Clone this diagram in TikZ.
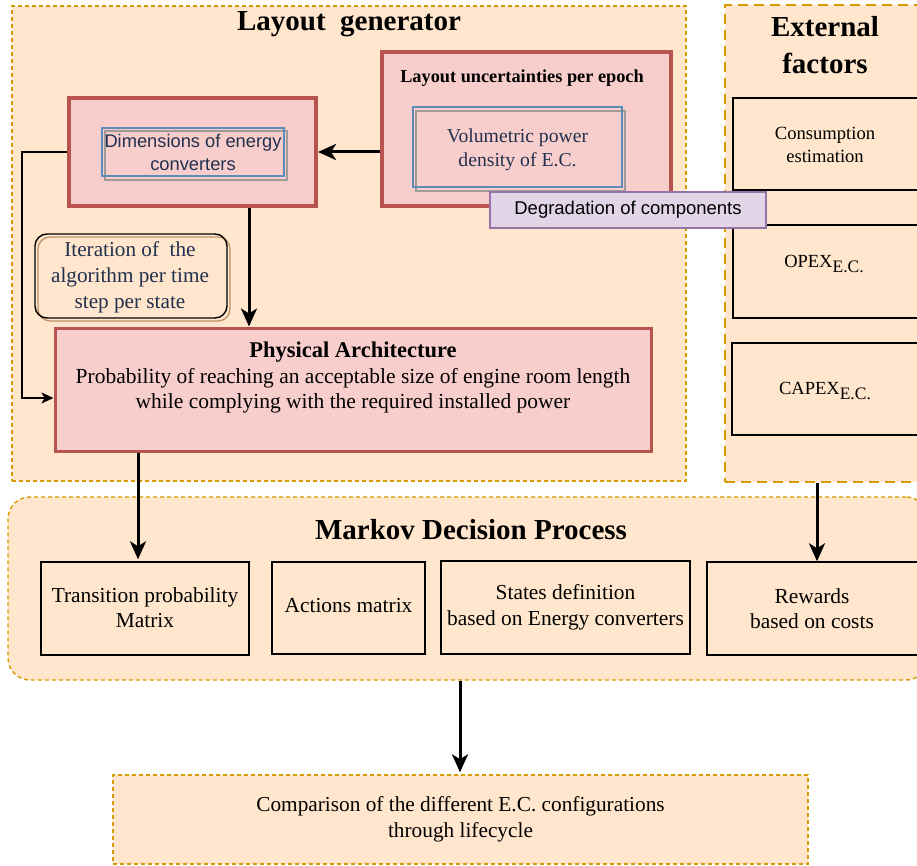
\documentclass[tikz,border=0pt]{standalone}
\usepackage{fontspec}
\setmainfont{Liberation Serif}
\setsansfont{Liberation Sans}
\usetikzlibrary{arrows.meta}
\definecolor{orgB}{HTML}{D79B00}
\definecolor{orgF}{HTML}{FFE6CC}
\definecolor{redB}{HTML}{B85450}
\definecolor{redF}{HTML}{F8CECC}
\definecolor{bluB}{HTML}{5B8DB8}
\definecolor{purB}{HTML}{9673A6}
\definecolor{purF}{HTML}{E1D5E7}
\definecolor{navy}{HTML}{22304F}
\definecolor{grayB}{HTML}{A09A98}
\newcommand{\fs}[2]{\fontsize{#1}{#2}\selectfont}
\tikzset{
  x=1pt, y=-1pt,
  container/.style={draw=orgB, fill=orgF, line width=1.4pt, dash pattern=on 4pt off 3pt, inner sep=0pt},
  redbox/.style={draw=redB, fill=redF, line width=4pt, inner sep=0pt},
  bluebox/.style={draw=bluB, line width=1.3pt, inner sep=0pt},
  graybox/.style={draw=grayB, line width=1.3pt, inner sep=0pt},
  blackbox/.style={draw=black, line width=1.4pt, inner sep=0pt},
  txt/.style={align=center, inner sep=0pt},
  thickarrow/.style={line width=3pt, -{Stealth[length=18pt,width=16pt,inset=5pt]}},
  thinarrow/.style={line width=1.5pt, -{Stealth[length=12pt,width=11pt,inset=3pt]}},
}
\begin{document}
\begin{tikzpicture}
\useasboundingbox (0,0) rectangle (917,866);
\clip (0,0) rectangle (917,866);
\fill[white] (0,0) rectangle (917,866);

% containers
\node[container, minimum width=674pt, minimum height=475pt] (lg) at (349,243.5) {};
\node[container, dash pattern=on 10pt off 6pt, line width=1.8pt, minimum width=205pt, minimum height=477pt] (ext) at (827.5,243.5) {};
\node[container, rounded corners=22pt, minimum width=920pt, minimum height=183pt] (mdp) at (468,588.5) {};
\node[container, minimum width=695pt, minimum height=89pt] (comp) at (460.5,819.5) {};

% titles
\node[txt, font=\bfseries\fs{29}{35}] (lgt) at (349,24) {Layout~ generator};
\node[txt, font=\bfseries\fs{29}{37}] (extt) at (825,45) {External\\factors};
\node[txt, font=\bfseries\fs{29}{35}] (mdpt) at (471,530) {Markov Decision Process};

% Layout uncertainties
\node[redbox, minimum width=289pt, minimum height=154pt] (unc) at (526.5,129) {};
\node[txt, font=\bfseries\fs{18.3}{22}] (unct) at (522,78) {Layout uncertainties per epoch};
\node[graybox, minimum width=209pt, minimum height=80pt] (volg) at (520.5,151) {};
\node[bluebox, minimum width=209pt, minimum height=80pt] (vol) at (517.5,147) {};
\node[txt, text=navy, font=\fs{19.7}{24}] (volt) at (517.5,150) {Volumetric power\\density of E.C.};

% Dimensions
\node[redbox, minimum width=247pt, minimum height=108pt] (dims) at (192.5,152) {};
\node[graybox, minimum width=182pt, minimum height=49pt] (dimg) at (196,155.5) {};
\node[bluebox, minimum width=182pt, minimum height=48pt] (dimb) at (193,152) {};
\node[txt, text=navy, font=\sffamily\fs{18.3}{23}] (dimt) at (193,152) {Dimensions of energy\\converters};

% Iteration
\node[draw=grayB!70!orange, line width=1.3pt, rounded corners=12pt, minimum width=192pt, minimum height=84pt] (itsh) at (134,279) {};
\node[draw=black, line width=1.4pt, rounded corners=12pt, minimum width=192pt, minimum height=84pt, inner sep=0pt] (it) at (131,276) {};
\node[txt, text=navy, font=\fs{21.2}{26}] (itt) at (130,277) {Iteration of~ the\\algorithm per time\\step per state};

% Physical architecture
\node[redbox, line width=3pt, minimum width=596pt, minimum height=123pt] (phys) at (353,389.5) {};
\node[txt, font=\fs{21.5}{25.5}] (physt) at (353,378) {{\fs{22.5}{25.5}\bfseries Physical Architecture}\\Probability of reaching an acceptable size of engine room length\\while complying with the required installed power};

% External factor boxes
\node[blackbox, minimum width=185pt, minimum height=92pt] (cons) at (825.5,144) {};
\node[txt, font=\fs{18.6}{23}] (const) at (825,145) {Consumption\\estimation};
\node[blackbox, minimum width=185pt, minimum height=93pt] (opex) at (825.5,271.5) {};
\node[txt, font=\fs{18.5}{22}] (opext) at (824,264) {OPEX\raisebox{-5pt}{\fs{17.5}{20}E.C.}};
\node[blackbox, minimum width=186pt, minimum height=92pt] (capex) at (825,389) {};
\node[txt, font=\fs{18.5}{22}] (capext) at (825,391) {CAPEX\raisebox{-5pt}{\fs{17.5}{20}E.C.}};

% Degradation
\node[draw=purB, fill=purF, line width=1.3pt, minimum width=276pt, minimum height=36pt, inner sep=0pt] (deg) at (628,210) {};
\node[txt, font=\sffamily\fs{18.5}{22}] (degt) at (628,210) {Degradation of components};

% MDP boxes
\node[blackbox, minimum width=208pt, minimum height=93pt] (trans) at (145,608.5) {};
\node[txt, font=\fs{21.4}{25}] (transt) at (145,608) {Transition probability\\Matrix};
\node[blackbox, minimum width=153pt, minimum height=92pt] (act) at (348.5,608) {};
\node[txt, font=\fs{21.4}{25}] (actt) at (348.5,606) {Actions matrix};
\node[blackbox, minimum width=249pt, minimum height=93pt] (states) at (565.5,607.5) {};
\node[txt, font=\fs{21.4}{26}] (statest) at (565.5,607) {States definition\\based on Energy converters};
\node[blackbox, minimum width=211pt, minimum height=93pt] (rew) at (812.5,608.5) {};
\node[txt, font=\fs{21.4}{25}] (rewt) at (812,608.5) {Rewards\\based on costs};

% Comparison text
\node[txt, font=\fs{21.3}{26}] (compt) at (460.5,819) {Comparison of the different E.C. configurations\\through lifecycle};

% connectors
\coordinate (x249) at (249,0);
\coordinate (x138) at (138,0);
\coordinate (x817) at (817,0);
\coordinate (x460) at (460,0);
\draw[thickarrow] (unc.west |- dims.east) -- (dims.east);
\draw[thinarrow] (dims.west) -- ++(-45,0) |- ([yshift=-8.5pt]phys.west);
\draw[thickarrow] (dims.south -| x249) -- (phys.north -| x249);
\draw[thickarrow] (phys.south -| x138) -- ([yshift=2pt]trans.north -| x138);
\draw[thickarrow] (ext.south -| x817) -- (rew.north -| x817);
\draw[thickarrow] (mdp.south -| x460) -- ([yshift=2pt]comp.north -| x460);
\end{tikzpicture}
\end{document}
